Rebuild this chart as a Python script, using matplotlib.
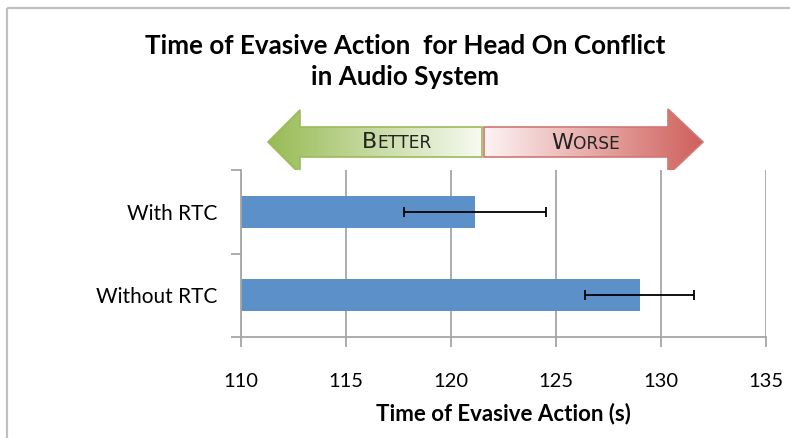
import numpy as np
import matplotlib
matplotlib.use("Agg")
import matplotlib.pyplot as plt
from matplotlib.patches import Polygon
from matplotlib.colors import LinearSegmentedColormap

# mean evasive action time and its spread, per condition
groups = ["Without RTC", "With RTC"]
times = [128.98, 121.14]
spread = [2.6, 3.4]
xticks = [110, 115, 120, 125, 130, 135]

W, H = 790, 438
fig = plt.figure(figsize=(W / 100, H / 100), dpi=100)

# full-figure layer in pixel units for the frame, title and arrows
bg = fig.add_axes([0, 0, 1, 1])
bg.set_xlim(0, W)
bg.set_ylim(H, 0)
bg.axis("off")

frame = "#c0c0c0"
bg.plot([7, W], [8, 8], color=frame, lw=1.6, solid_capstyle="butt")
bg.plot([7, 7], [8, H], color=frame, lw=1.6, solid_capstyle="butt")

bg.text(405, 46, "Time of Evasive Action  for Head On Conflict",
        ha="center", va="center", fontsize=18.7, fontweight="bold", family="Lato")
bg.text(405, 77, "in Audio System",
        ha="center", va="center", fontsize=18.7, fontweight="bold", family="Lato")


def grad_arrow(pts, c_left, c_right, edge):
    poly = Polygon(pts, closed=True, facecolor="none", edgecolor=edge, lw=1.2, zorder=3)
    bg.add_patch(poly)
    xs = [p[0] for p in pts]
    ys = [p[1] for p in pts]
    cmap = LinearSegmentedColormap.from_list("g", [c_left, c_right])
    g = np.linspace(0, 1, 256).reshape(1, -1)
    im = bg.imshow(g, cmap=cmap, aspect="auto", zorder=2,
                   extent=[min(xs), max(xs), max(ys), min(ys)])
    im.set_clip_path(poly)


grad_arrow([(268, 142), (300, 110), (300, 127), (482, 127), (482, 157),
            (300, 157), (300, 174)], "#98bb55", "#f7faf1", "#9bbb59")
grad_arrow([(484, 127), (668, 127), (668, 109), (703, 142), (668, 175),
            (668, 157), (484, 157)], "#fdf3f3", "#cf5f5b", "#d07874")
bg.set_xlim(0, W)
bg.set_ylim(H, 0)


def small_caps(x, y, first, rest):
    t1 = bg.text(x, y, first, fontsize=16, family="DejaVu Sans",
                 ha="left", va="baseline", color="#222222", zorder=4)
    bg.annotate(rest, xy=(1, 0), xycoords=t1, fontsize=12.3, family="DejaVu Sans",
                ha="left", va="bottom", color="#222222", zorder=4)


small_caps(362, 148, "B", "ETTER")
small_caps(551, 149, "W", "ORSE")

# bar chart
ax = fig.add_axes([241 / W, 1 - 337 / H, 525 / W, 167 / H])
ypos = np.arange(len(groups))
ax.barh(ypos, times, height=0.38, left=0, color="#5b90c8", zorder=2)
ax.errorbar(times, ypos, xerr=spread, fmt="none", ecolor="black",
            elinewidth=1.3, capsize=3.3, capthick=1.3, zorder=3)

ax.set_xlim(xticks[0], xticks[-1])
ax.set_ylim(-0.5, len(groups) - 0.5)
ax.set_xticks(xticks)
ax.set_xticklabels([str(v) for v in xticks], fontsize=14.5, family="Lato")
ax.set_yticks(ypos)
ax.set_yticklabels(groups, fontsize=15, family="Lato")
ax.set_yticks([-0.5, 0.5, 1.5], minor=True)
ax.tick_params(axis="y", which="major", length=0, pad=17)
ax.tick_params(axis="y", which="minor", length=7, width=1.3, color="#a6a6a6", direction="out")
ax.tick_params(axis="x", length=7, width=1.3, color="#a6a6a6", direction="out", pad=19)
ax.grid(axis="x", color="#a6a6a6", lw=1.3, zorder=0)
ax.set_axisbelow(True)
for s in ["top", "right"]:
    ax.spines[s].set_visible(False)
for s in ["left", "bottom"]:
    ax.spines[s].set_color("#a6a6a6")
    ax.spines[s].set_linewidth(1.3)

ax.set_xlabel("Time of Evasive Action (s)", fontsize=16, fontweight="bold",
              family="Lato", labelpad=9)

fig.savefig("out.png", dpi=100)
